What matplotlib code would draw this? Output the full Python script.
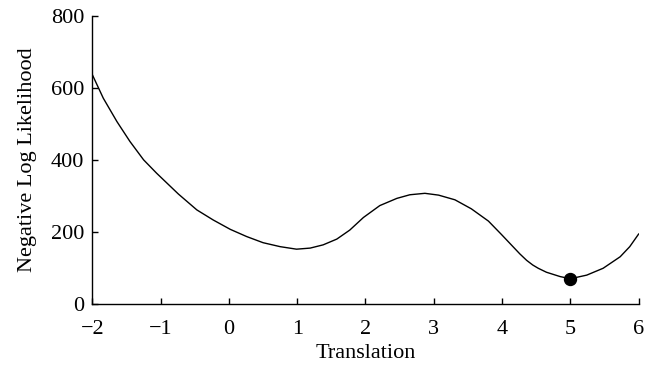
import matplotlib
matplotlib.use("Agg")
import matplotlib.pyplot as plt

plt.rcParams['font.family'] = ['Liberation Serif', 'DejaVu Serif']

# Negative log likelihood as a function of translation
translation = [-2.0, -1.84, -1.64, -1.45, -1.25, -1.06, -0.74, -0.47, -0.23, 0.02,
               0.26, 0.50, 0.75, 0.99, 1.19, 1.38, 1.58, 1.77, 1.97, 2.21,
               2.46, 2.65, 2.87, 3.07, 3.31, 3.55, 3.80, 3.99, 4.16, 4.26,
               4.36, 4.45, 4.53, 4.65, 4.85, 5.00, 5.24, 5.48, 5.73, 5.87, 6.0]
nll = [637, 572, 507, 452, 401, 364, 306, 262, 234, 208,
       188, 171, 160, 153, 156, 165, 181, 206, 241, 274,
       294, 304, 308, 303, 290, 265, 231, 194, 160, 140,
       122, 109, 100, 89, 77, 71, 81, 100, 132, 160, 195]

# Best estimate
best_x = [5.0]
best_y = [71]

x_ticks = [-2, -1, 0, 1, 2, 3, 4, 5, 6]
y_ticks = [0, 200, 400, 600, 800]

fig = plt.figure(figsize=(6.55, 3.69), dpi=100)
ax = fig.add_axes([0.141, 0.1753, 0.834, 0.7813])

ax.plot(translation, nll, color='black', lw=1.0)
ax.plot(best_x, best_y, 'o', color='black', markersize=8.6)

ax.set_xlim(-2, 6)
ax.set_ylim(0, 800)
ax.set_xticks(x_ticks)
ax.set_yticks(y_ticks)
ax.spines['top'].set_visible(False)
ax.spines['right'].set_visible(False)
for s in ('left', 'bottom'):
    ax.spines[s].set_linewidth(1.0)
ax.tick_params(direction='in', length=4, width=1.0, labelsize=16)
ax.tick_params(axis='x', pad=11)
ax.tick_params(axis='y', pad=6)

ax.set_xlabel('Translation', fontsize=16, labelpad=4)
ax.set_ylabel('Negative Log Likelihood', fontsize=16, labelpad=10)

fig.savefig('out.png', dpi=100)
